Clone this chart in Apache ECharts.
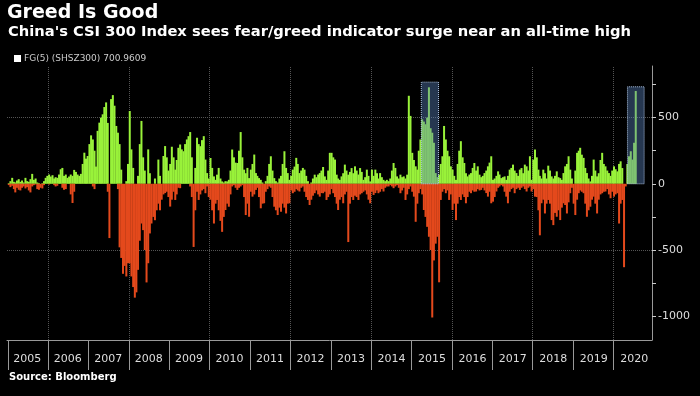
<!DOCTYPE html>
<html>
<head>
<meta charset="utf-8">
<script src="https://cdn.jsdelivr.net/npm/echarts@6/dist/echarts.min.js"></script>
<style>
html, body { margin: 0; padding: 0; background: #000; }
#main { width: 700px; height: 396px; }
</style>
</head>
<body>
<div id="main"></div>
<script>
// years on the axis
var years = ['2005', '2006', '2007', '2008', '2009', '2010', '2011', '2012', '2013', '2014', '2015', '2016', '2017', '2018', '2019', '2020'];

// greed side of FG(5), two readings per month
var greed = [
  5, 20, 45, 15, 10, 25, 35, 15, 25, 10, 45, 20, 15, 35, 75, 30, 40, 10, 5, 0, 5, 20, 45, 60, // 2005
  70, 55, 65, 40, 50, 45, 70, 110, 120, 60, 70, 45, 55, 70, 60, 105, 90, 70, 60, 75, 150, 235, 190, 210, // 2006
  300, 366, 335, 250, 130, 400, 462, 500, 525, 580, 615, 460, 0, 640, 670, 590, 437, 386, 300, 107, 0, 0, 20, 150, // 2007
  550, 260, 120, 0, 0, 60, 300, 475, 200, 100, 0, 260, 80, 0, 0, 40, 0, 183, 60, 0, 210, 285, 200, 100, // 2008
  150, 280, 200, 107, 180, 272, 297, 260, 246, 300, 335, 360, 391, 200, 0, 120, 348, 300, 284, 330, 360, 183, 81, 40, // 2009
  195, 120, 56, 30, 69, 120, 40, 18, 10, 20, 18, 30, 100, 259, 200, 160, 157, 250, 391, 200, 107, 80, 120, 43, // 2010
  107, 150, 221, 81, 60, 43, 30, 10, 0, 20, 60, 150, 208, 100, 43, 20, 10, 40, 60, 150, 246, 120, 81, 30, // 2011
  60, 107, 130, 196, 150, 81, 100, 120, 107, 60, 20, 0, 10, 40, 69, 50, 70, 81, 100, 127, 56, 30, 100, 234, // 2012
  234, 200, 183, 69, 40, 30, 56, 80, 145, 100, 69, 90, 119, 80, 132, 100, 70, 119, 90, 30, 50, 107, 60, 18, // 2013
  107, 60, 107, 80, 40, 81, 50, 30, 20, 30, 20, 40, 100, 157, 120, 56, 40, 69, 50, 56, 40, 69, 665, 513, // 2014
  234, 180, 132, 107, 250, 335, 487, 470, 450, 500, 729, 420, 386, 310, 81, 50, 69, 150, 208, 437, 335, 250, 208, 132, // 2015
  107, 60, 30, 150, 250, 322, 200, 157, 80, 56, 70, 81, 120, 157, 100, 132, 69, 50, 60, 81, 100, 132, 160, 208, // 2016
  30, 40, 60, 94, 70, 43, 50, 56, 30, 60, 107, 120, 145, 100, 81, 60, 107, 119, 80, 145, 132, 100, 208, 30, // 2017
  183, 259, 200, 107, 60, 40, 107, 80, 40, 137, 100, 56, 40, 60, 94, 50, 43, 30, 81, 132, 150, 208, 107, 40, // 2018
  0, 100, 234, 250, 272, 220, 196, 120, 81, 40, 18, 60, 183, 100, 56, 80, 180, 234, 150, 132, 100, 81, 60, 100, // 2019
  132, 110, 94, 150, 170, 119, 0, 0, 150, 208, 246, 183, 310, 700.9609 // 2020
];

// fear side of FG(5)
var fear = [
  -10, -25, -15, -40, -65, -30, -45, -50, -30, -20, -35, -25, -50, -65, -20, -10, -5, -40, -45, -30, -35, -10, 0, 0, // 2005
  -5, 0, 0, -10, -20, -15, 0, 0, -30, -45, -40, 0, 0, -80, -145, -60, 0, 0, 0, 0, 0, 0, 0, 0, // 2006
  0, 0, -20, -40, 0, 0, 0, 0, 0, 0, 0, -60, -410, 0, 0, 0, 0, -40, -480, -560, -680, -620, -700, -600, // 2007
  -600, -700, -780, -860, -820, -650, -430, -300, -350, -500, -745, -600, -375, -300, -250, -275, -200, -150, -200, -120, -80, -70, -60, -100, // 2008
  -172, -120, -60, -122, -80, -30, -33, 0, 0, 0, 0, 0, -20, -100, -477, -200, -60, -122, -80, -50, -40, -71, -20, -100, // 2009
  -120, -200, -300, -150, -122, -200, -280, -363, -250, -198, -150, -173, -80, -20, -10, -30, -46, -30, -20, -10, -100, -236, -150, -249, // 2010
  -60, -97, -80, -46, -30, -100, -185, -150, -147, -60, -40, -20, -30, -100, -173, -200, -236, -180, -211, -150, -180, -224, -150, -147, // 2011
  -50, -71, -60, -40, -50, -58, -30, -20, -60, -100, -122, -160, -120, -90, -71, -50, -80, -97, -70, -71, -60, -122, -100, -80, // 2012
  -40, -71, -100, -150, -198, -120, -100, -147, -80, -60, -440, -150, -100, -122, -90, -100, -122, -80, -71, -60, -50, -80, -120, -147, // 2013
  -60, -84, -70, -50, -71, -60, -40, -58, -30, -20, -20, -10, -20, -33, -20, -10, -30, -71, -50, -30, -122, -80, -40, -20, // 2014
  -60, -97, -287, -150, -71, -40, -80, -198, -250, -325, -400, -500, -1010, -579, -452, -400, -744, -122, -60, -40, -71, -50, -122, -80, // 2015
  -198, -150, -274, -150, -100, -122, -80, -100, -147, -100, -60, -71, -50, -60, -58, -40, -50, -46, -30, -50, -70, -97, -60, -147, // 2016
  -135, -100, -58, -30, -20, -10, -20, -60, -97, -147, -60, -40, -30, -71, -40, -30, -46, -30, -20, -40, -58, -30, -20, -58, // 2017
  -40, -97, -100, -200, -389, -147, -120, -224, -150, -122, -150, -274, -312, -220, -249, -200, -274, -180, -147, -160, -224, -140, -71, -30, // 2018
  -150, -236, -120, -71, -50, -60, -71, -150, -249, -200, -173, -120, -97, -150, -224, -120, -80, -71, -60, -58, -40, -80, -109, -60, // 2019
  -97, -80, -71, -300, -150, -122, -630, -20, 0, 0, 0, 0, 0, 0 // 2020
];

// shaded boxes: start, end, top
var highlights = [
  ['2015-03-31', '2015-09-03', 768],
  ['2020-05-09', '2020-10-07', 733]
];

var legendName = 'FG(5) (SHSZ300) 700.9609';
var font = 'DejaVu Sans';

// dates: mid points of each half month
var dates = [];
for (var i = 0; i < greed.length; i++) {
    var y = years[Math.floor(i / 24)];
    var k = i % 24;
    var m = Math.floor(k / 2) + 1;
    dates.push(y + '-' + (m < 10 ? '0' + m : m) + '-' + (k % 2 ? '23' : '08'));
}

var yearStarts = years.map(function (y) { return y + '-01-01'; });
var gridLines = [{yAxis: 500}, {yAxis: -500}];
years.forEach(function (y) {
    if (+y % 2 === 0) gridLines.push({xAxis: y + '-01-01'});
});

var myChart = echarts.init(document.getElementById('main'));

var option = {
    backgroundColor: '#000',
    animation: false,
    title: [{
        text: 'Greed Is Good',
        left: 7, top: 4, padding: 0,
        textStyle: {color: '#fff', fontSize: 19, fontWeight: 'bold', fontFamily: font}
    }, {
        text: "China's CSI 300 Index sees fear/greed indicator surge near an all-time high",
        left: 8, top: 25, padding: 0,
        textStyle: {color: '#fff', fontSize: 14.7, fontWeight: 'bold', fontFamily: font}
    }, {
        text: 'Source: Bloomberg',
        left: 9, top: 372, padding: 0,
        textStyle: {color: '#fff', fontSize: 10, fontWeight: 'bold', fontFamily: font}
    }],
    legend: {
        left: 14, top: 54, padding: 0,
        icon: 'rect',
        itemWidth: 7, itemHeight: 7,
        selectedMode: false,
        textStyle: {color: '#ccc', fontSize: 9, fontFamily: font, padding: [0, 0, 0, -2]},
        data: [{name: legendName, itemStyle: {color: '#fff'}}]
    },
    grid: [
        {left: 7, right: 48, top: 66, bottom: 56},
        {left: 7, right: 45.5, top: 66, bottom: 56}
    ],
    xAxis: [{
        type: 'time',
        gridIndex: 0,
        min: '2005-01-01',
        max: '2020-12-08',
        axisLine: {onZero: false, lineStyle: {color: '#999'}},
        axisTick: {show: true, customValues: yearStarts, length: 30, lineStyle: {color: '#999'}},
        axisLabel: {show: false},
        splitLine: {show: false}
    }, {
        type: 'category',
        gridIndex: 1,
        data: years,
        axisLine: {show: false},
        axisTick: {show: false},
        axisLabel: {color: '#ddd', fontSize: 11, margin: 14, fontFamily: font}
    }],
    yAxis: [{
        type: 'value',
        gridIndex: 0,
        position: 'right',
        min: -1180,
        max: 890,
        axisLine: {show: true, lineStyle: {color: '#999'}},
        axisTick: {show: true, length: 4, customValues: [-1000, -750, -500, -250, 0, 250, 500, 750], lineStyle: {color: '#ccc'}},
        axisLabel: {
            customValues: [-1000, -500, 0, 500],
            color: '#ddd', fontSize: 11, margin: 6, fontFamily: font,
            formatter: function (v) { return String(v); }
        },
        splitLine: {show: false}
    }, {
        type: 'value',
        gridIndex: 1,
        show: false
    }],
    series: [{
        name: 'grid',
        type: 'line',
        data: [],
        z: 0,
        markLine: {
            silent: true,
            z: 0,
            symbol: ['none', 'none'],
            label: {show: false},
            lineStyle: {type: 'dotted', color: '#555', width: 1},
            data: gridLines
        }
    }, {
        name: legendName,
        type: 'bar',
        stack: 'fg',
        barWidth: 2,
        itemStyle: {color: '#99f23a'},
        data: dates.map(function (d, i) { return [d, greed[i]]; })
    }, {
        name: 'fear',
        type: 'bar',
        stack: 'fg',
        barWidth: 2,
        itemStyle: {color: '#e4491c'},
        data: dates.map(function (d, i) { return [d, fear[i]]; })
    }, {
        name: 'boxes',
        type: 'line',
        data: [],
        z: 10,
        markArea: {
            silent: true,
            z: 10,
            itemStyle: {color: 'rgba(90,130,190,0.42)', borderColor: '#b0c6e6', borderWidth: 1, borderType: 'dotted'},
            data: highlights.map(function (h) {
                return [{xAxis: h[0], yAxis: 0}, {xAxis: h[1], yAxis: h[2]}];
            })
        }
    }]
};

myChart.setOption(option);
</script>
</body>
</html>
